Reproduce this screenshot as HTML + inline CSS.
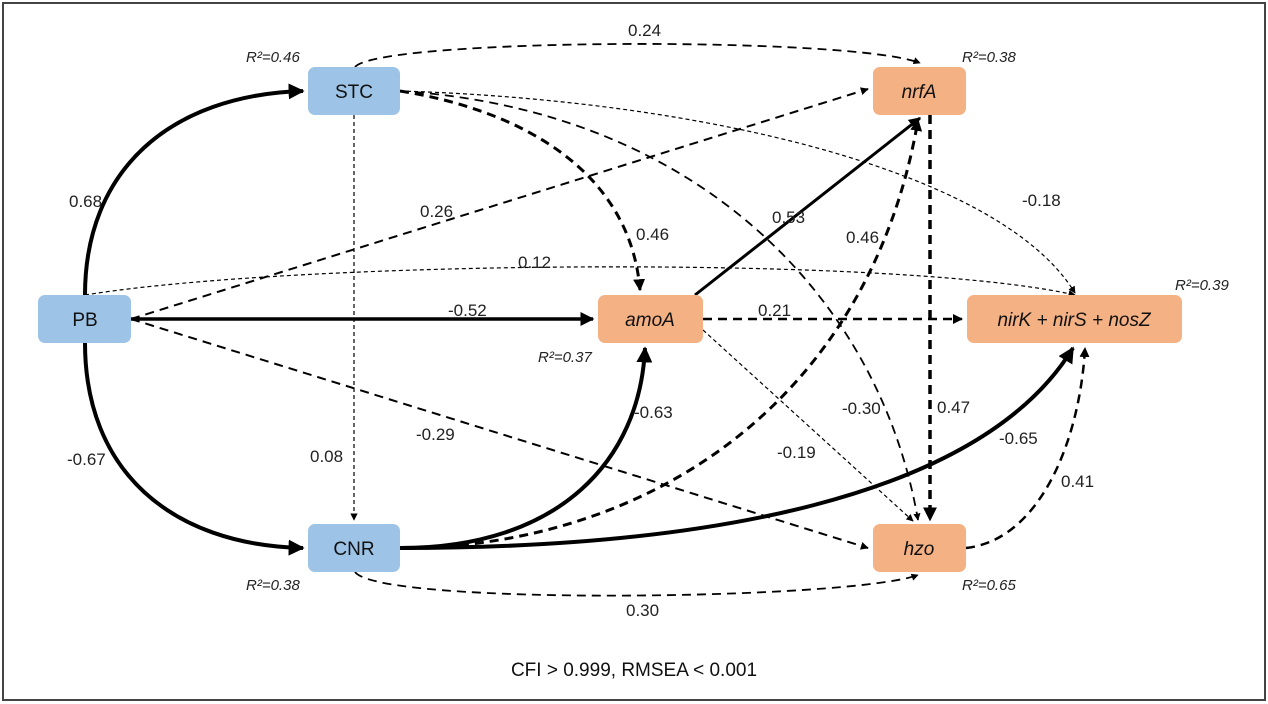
<!DOCTYPE html>
<html><head><meta charset="utf-8"><style>
body{margin:0;background:#fff}
svg{display:block;font-family:"Liberation Sans",sans-serif}
.n{font-size:17px;fill:#222}
.r{font-size:15px;font-style:italic;fill:#222}
.t{font-size:19px;fill:#111;text-anchor:middle}
</style></head><body>
<svg width="1268" height="704" viewBox="0 0 1268 704">
<defs>
<marker id="a" viewBox="0 0 10 10" refX="9" refY="5" markerWidth="4" markerHeight="4" orient="auto"><path d="M0,0L10,5L0,10z" fill="#000"/></marker>
<marker id="b" viewBox="0 0 10 10" refX="9" refY="5" markerWidth="6" markerHeight="6" orient="auto"><path d="M0,0L10,5L0,10z" fill="#000"/></marker>
</defs>
<rect x="3" y="3" width="1262" height="697" fill="#fff" stroke="#444" stroke-width="2"/>
<g fill="none" stroke="#000">
<path d="M85,295 C85,170 170,95 303,91" stroke-width="4" marker-end="url(#a)"/>
<path d="M85,343 C85,470 170,545 303,548" stroke-width="4" marker-end="url(#a)"/>
<path d="M131,319 L593,319" stroke-width="3.5" marker-end="url(#a)"/>
<path d="M400,548 C560,548 640,460 645,348" stroke-width="4" marker-end="url(#a)"/>
<path d="M400,548 C700,548 980,500 1073,348" stroke-width="4" marker-end="url(#a)"/>
<path d="M695,295 L920,118" stroke-width="3" marker-end="url(#a)"/>
<g stroke-dasharray="9,6">
<path d="M400,91 C520,110 630,170 640,290" stroke-width="3" marker-end="url(#a)"/>
<path d="M131,319 L868,89" stroke-width="2" marker-end="url(#a)"/>
<path d="M131,319 L868,548" stroke-width="2" marker-end="url(#a)"/>
<path d="M703,319 L962,319" stroke-width="2.5" marker-end="url(#a)"/>
<path d="M930,115 L930,520" stroke-width="3.5" marker-end="url(#a)"/>
<path d="M400,548 C650,548 870,400 918,120" stroke-width="3" marker-end="url(#a)"/>
<path d="M966,548 C1040,540 1080,440 1085,348" stroke-width="2.5" marker-end="url(#a)"/>
<path d="M400,91 C700,110 880,300 918,520" stroke-width="1.8" marker-end="url(#a)"/>
<path d="M355,67 C380,38 850,36 920,63" stroke-width="1.8" marker-end="url(#a)"/>
<path d="M355,572 C380,606 850,600 918,575" stroke-width="1.8" marker-end="url(#a)"/>
</g>
<g stroke-dasharray="4,3" stroke-width="1.2">
<path d="M354,115 L354,520" marker-end="url(#b)"/>
<path d="M85,295 C300,260 900,255 1075,295" marker-end="url(#b)"/>
<path d="M400,91 C700,100 1000,170 1075,293" marker-end="url(#b)"/>
<path d="M703,330 L913,521" marker-end="url(#b)"/>
</g>
</g>
<rect x="308" y="67" width="92" height="48" rx="7" fill="#9dc3e6"/>
<rect x="38" y="295" width="93" height="48" rx="7" fill="#9dc3e6"/>
<rect x="308" y="524" width="92" height="48" rx="7" fill="#9dc3e6"/>
<rect x="598" y="295" width="105" height="48" rx="7" fill="#f4b183"/>
<rect x="873" y="67" width="93" height="48" rx="7" fill="#f4b183"/>
<rect x="967" y="295" width="215" height="48" rx="7" fill="#f4b183"/>
<rect x="873" y="524" width="93" height="48" rx="7" fill="#f4b183"/>
<text class="t" x="354" y="98">STC</text>
<text class="t" x="85" y="326">PB</text>
<text class="t" x="354" y="555">CNR</text>
<text class="t" x="650" y="326" font-style="italic">amoA</text>
<text class="t" x="919" y="98" font-style="italic">nrfA</text>
<text class="t" x="1074" y="326" font-style="italic">nirK + nirS + nosZ</text>
<text class="t" x="919" y="555" font-style="italic">hzo</text>
<text class="r" x="246" y="62">R²=0.46</text>
<text class="r" x="962" y="62">R²=0.38</text>
<text class="r" x="1175" y="290">R²=0.39</text>
<text class="r" x="538" y="362">R²=0.37</text>
<text class="r" x="246" y="590">R²=0.38</text>
<text class="r" x="962" y="590">R²=0.65</text>
<g class="n">
<text x="628" y="36">0.24</text>
<text x="69" y="207">0.68</text>
<text x="420" y="217">0.26</text>
<text x="518" y="268">0.12</text>
<text x="448" y="316">-0.52</text>
<text x="636" y="240">0.46</text>
<text x="772" y="223">0.53</text>
<text x="846" y="243">0.46</text>
<text x="1022" y="206">-0.18</text>
<text x="758" y="316">0.21</text>
<text x="67" y="465">-0.67</text>
<text x="310" y="462">0.08</text>
<text x="416" y="440">-0.29</text>
<text x="634" y="418">-0.63</text>
<text x="777" y="458">-0.19</text>
<text x="842" y="414">-0.30</text>
<text x="937" y="413">0.47</text>
<text x="999" y="444">-0.65</text>
<text x="1061" y="487">0.41</text>
<text x="626" y="616">0.30</text>
</g>
<text class="t" x="634" y="676">CFI &gt; 0.999, RMSEA &lt; 0.001</text>
</svg>
</body></html>
